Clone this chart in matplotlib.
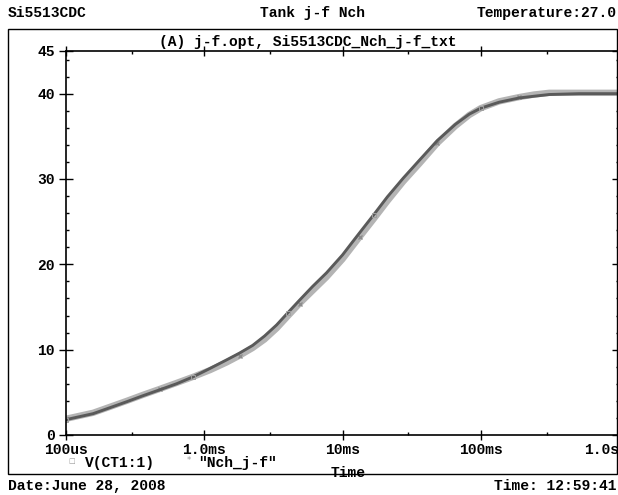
import matplotlib
matplotlib.use("Agg")
import matplotlib.pyplot as plt
import matplotlib.ticker as ticker
from matplotlib.patches import Rectangle

# time (s) and voltage values
t_sim = [1e-4, 1.57e-4, 2.08e-4, 2.75e-4, 3.6e-4, 4.77e-4, 6.3e-4, 8.26e-4, 1.1e-3, 1.45e-3,
         1.8e-3, 2.24e-3, 2.73e-3, 3.34e-3, 4.01e-3, 4.89e-3, 6.07e-3, 7.66e-3, 1e-2, 1.14e-2,
         1.33e-2, 1.68e-2, 2.11e-2, 2.75e-2, 3.6e-2, 4.85e-2, 6.55e-2, 8.26e-2, 0.1, 0.136,
         0.19, 0.243, 0.313, 0.514, 1.0]
v_sim = [1.8, 2.5, 3.2, 3.9, 4.6, 5.3, 6.0, 6.8, 7.8, 8.8,
         9.6, 10.5, 11.6, 12.9, 14.3, 15.8, 17.4, 19.0, 21.1, 22.3,
         23.7, 25.8, 27.9, 30.1, 32.2, 34.5, 36.4, 37.6, 38.3, 39.0,
         39.5, 39.7, 39.9, 40.0, 40.0]

t_meas = [1e-4, 1.57e-4, 2.08e-4, 2.75e-4, 3.6e-4, 4.77e-4, 6.3e-4, 8.26e-4, 1.1e-3, 1.45e-3,
          1.8e-3, 2.24e-3, 2.73e-3, 3.34e-3, 4.01e-3, 4.89e-3, 6.07e-3, 7.66e-3, 1e-2, 1.14e-2,
          1.33e-2, 1.68e-2, 2.11e-2, 2.75e-2, 3.6e-2, 4.85e-2, 6.55e-2, 8.26e-2, 0.1, 0.136,
          0.19, 0.243, 0.313, 0.514, 1.0]
v_meas = [1.9, 2.6, 3.3, 4.0, 4.7, 5.4, 6.1, 6.8, 7.6, 8.5,
          9.3, 10.2, 11.2, 12.5, 13.9, 15.4, 16.9, 18.5, 20.6, 21.8,
          23.2, 25.3, 27.4, 29.7, 31.8, 34.2, 36.2, 37.5, 38.3, 39.1,
          39.6, 39.9, 40.1, 40.1, 40.1]

x_ticks = [1e-4, 1e-3, 1e-2, 1e-1, 1.0]
x_labels = ['100us', '1.0ms', '10ms', '100ms', '1.0s']
y_ticks = [0, 10, 20, 30, 40, 45]

W, H = 618, 495
fnt = dict(family='Liberation Mono', fontweight='bold', fontsize=10.5)

fig = plt.figure(figsize=(W / 100, H / 100), dpi=100)
ax = fig.add_axes([66 / W, 1 - 435 / H, 553 / W, 384 / H])

ax.semilogx(t_meas, v_meas, '-', color='#b4b4b4', linewidth=4.6, solid_capstyle='butt',
            marker='x', markersize=3, markevery=5, markeredgecolor='#8c8c8c')
ax.semilogx(t_sim, v_sim, '-', color='#5a5a5a', linewidth=2.1,
            marker='s', markersize=2.5, markevery=7, markerfacecolor='none',
            markeredgecolor='#a0a0a0', markeredgewidth=0.7)

ax.set_xlim(1e-4, 1.0)
ax.set_ylim(0, 45)

ax.xaxis.set_major_locator(ticker.FixedLocator(x_ticks))
ax.xaxis.set_minor_locator(ticker.FixedLocator([3e-4, 3e-3, 3e-2, 3e-1]))
ax.xaxis.set_major_formatter(ticker.NullFormatter())
ax.xaxis.set_minor_formatter(ticker.NullFormatter())
ax.yaxis.set_major_locator(ticker.FixedLocator(y_ticks))
ax.yaxis.set_minor_locator(ticker.MultipleLocator(2))
ax.set_yticklabels([str(v) for v in y_ticks], **fnt)

ax.tick_params(axis='y', which='major', direction='inout', length=10, width=1.0,
               right=True, pad=3)
ax.tick_params(axis='x', which='major', direction='inout', length=7, width=1.0, top=True)
ax.tick_params(which='minor', direction='in', length=2.5, width=1.0, top=True, right=True)
for s in ax.spines.values():
    s.set_linewidth(1.2)

for xv, lab in zip(x_ticks, x_labels):
    ha = 'right' if xv == 1.0 else 'center'
    ax.text(xv * (0.995 if xv == 1.0 else 1.0), -1.7, lab, ha=ha, va='center', **fnt)

# outer frame
fig.patches.append(Rectangle((8 / W, 1 - 474 / H), 609 / W, 445 / H, transform=fig.transFigure,
                             fill=False, edgecolor='black', linewidth=1.0))

fig.text(8 / W, 1 - 13 / H, 'Si5513CDC', ha='left', va='center', **fnt)
fig.text(312 / W, 1 - 13 / H, 'Tank j-f Nch', ha='center', va='center', **fnt)
fig.text(617 / W, 1 - 13 / H, 'Temperature:27.0', ha='right', va='center', **fnt)
fig.text(308 / W, 1 - 42 / H, '(A) j-f.opt, Si5513CDC_Nch_j-f_txt', ha='center', va='center', **fnt)

# legend row
fig.text(72 / W, 1 - 461 / H, '\u25a1', ha='center', va='center', color='#999999',
         family='DejaVu Sans', fontsize=5)
fig.text(85 / W, 1 - 463 / H, 'V(CT1:1)', ha='left', va='center', **fnt)
fig.text(189 / W, 1 - 460 / H, '*', ha='center', va='center', color='#999999',
         family='DejaVu Sans', fontsize=6)
fig.text(198 / W, 1 - 463 / H, '"Nch_j-f"', ha='left', va='center', **fnt)
fig.text(348 / W, 1 - 473 / H, 'Time', ha='center', va='center', **fnt)

fig.text(8 / W, 1 - 486 / H, 'Date:June 28, 2008', ha='left', va='center', **fnt)
fig.text(617 / W, 1 - 486 / H, 'Time: 12:59:41', ha='right', va='center', **fnt)

plt.savefig('out.png', dpi=100)
